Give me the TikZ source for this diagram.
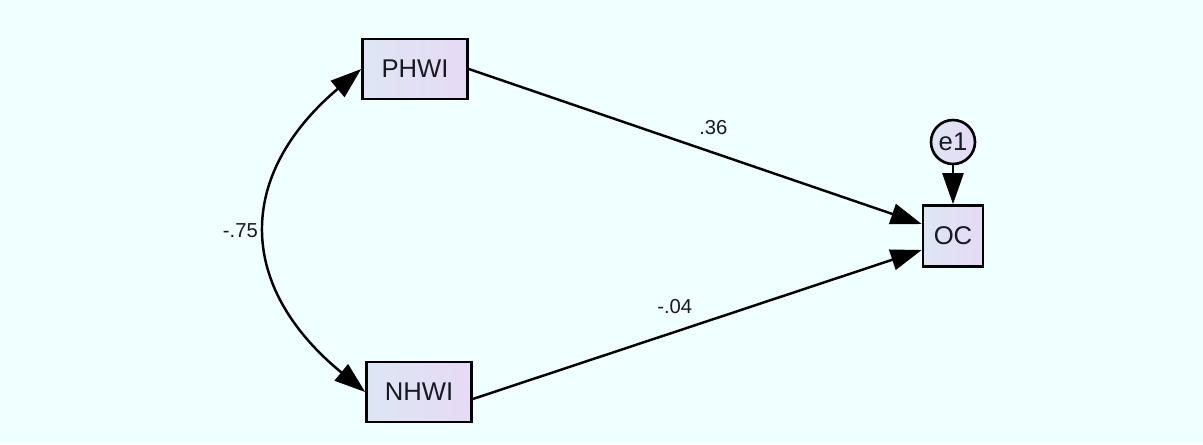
\documentclass[tikz,border=0pt]{standalone}
\usepackage{fontspec}
\setmainfont{Liberation Sans}
\usepackage{xcolor}
\usepackage{tikz}
\usetikzlibrary{arrows.meta}

\definecolor{canvas}{RGB}{240,255,255}
\definecolor{boxleft}{RGB}{221,230,244}
\definecolor{boxright}{RGB}{230,218,244}
\definecolor{inktext}{RGB}{25,25,35}

\begin{document}
\begin{tikzpicture}[
        x=0.02cm, y=-0.02cm,
        every node/.style={text=inktext},
        observed/.style={
            draw,
            line width=1.5pt,
            left color=boxleft,
            right color=boxright,
            minimum width=2.1cm,
            minimum height=1.2cm,
            font=\fontsize{14.6}{17}\selectfont
        },
        errvar/.style={
            draw,
            circle,
            line width=1.5pt,
            left color=boxleft,
            right color=boxright,
            minimum size=0.88cm,
            inner sep=0pt,
            font=\fontsize{14.6}{17}\selectfont
        },
        path/.style={-{Triangle[length=0.62cm, width=0.42cm]}, line width=1.4pt},
        corr/.style={{Triangle[length=0.62cm, width=0.42cm]}-{Triangle[length=0.62cm, width=0.42cm]}, line width=1.4pt},
        coef/.style={font=\fontsize{11.5}{13}\selectfont, inner sep=1pt}
    ]

        % background and size
        \fill[canvas] (0,0) rectangle (1203,444);

        \node[observed] (phwi) at (415,69)  {PHWI};
        \node[observed] (nhwi) at (419,392) {NHWI};
        \node[observed, minimum width=1.2cm, minimum height=1.22cm] (oc) at (953,236) {OC};
        \node[errvar] (e1) at (953,142) {e1};

        \draw[path] (phwi.east) -- ([yshift=0.24cm]oc.west)
            node[coef, above=8.5pt, pos=0.54] {.36};

        \draw[path] ([yshift=-0.14cm]nhwi.east) -- ([yshift=-0.28cm]oc.west)
            node[coef, above=8.5pt, pos=0.45] {-.04};

        \draw[path] (e1) -- (oc);

        \draw[corr] (phwi.west) .. controls (236,175) and (236,286) .. (nhwi.west)
            node[coef, left=4pt, pos=0.5] {-.75};

    \end{tikzpicture}
\end{document}
